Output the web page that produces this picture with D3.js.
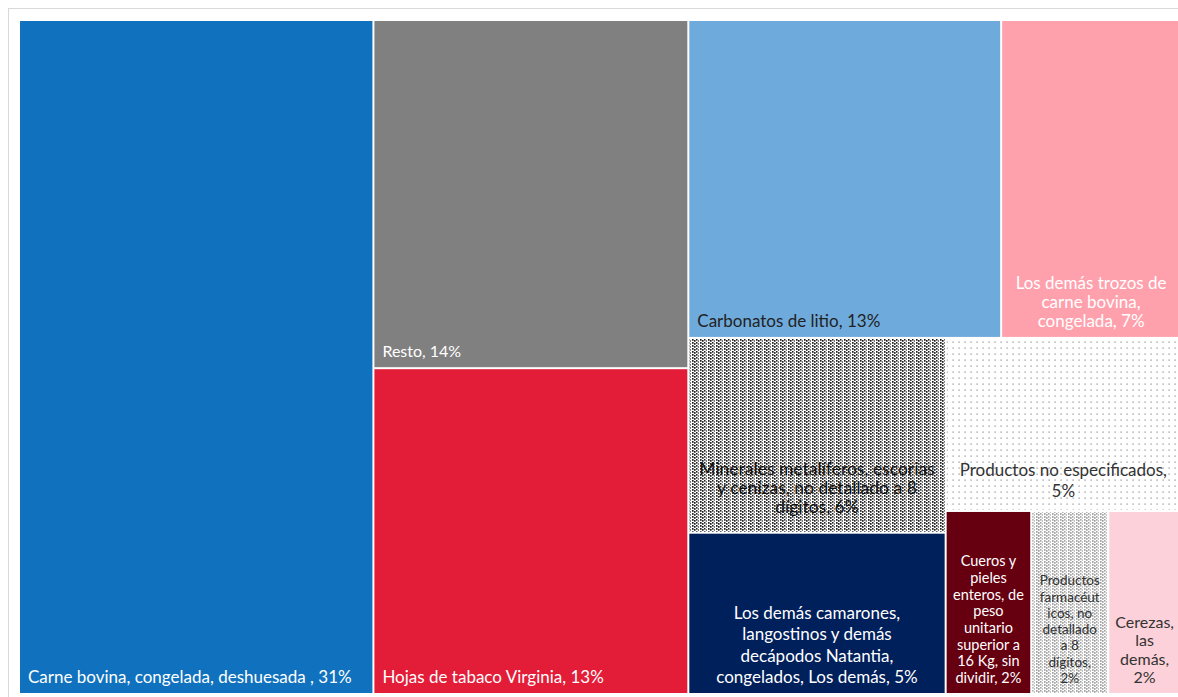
<!DOCTYPE html>
<html>
<head>
<meta charset="utf-8">
<script src="https://cdn.jsdelivr.net/npm/d3@7"></script>
<style>
  body { margin: 0; background: #fff; }
  svg { display: block; }
</style>
</head>
<body>
<div id="treemap"></div>
<script>
// Export shares by product (% of total)
const products = [
  "Carne bovina", "Resto", "Hojas de tabaco", "Carbonatos de litio",
  "Trozos carne bovina", "Minerales metalíferos", "Camarones",
  "Productos no especificados", "Cueros", "Productos farmacéuticos", "Cerezas"
];
const shares = [30.5, 14.0, 13.1, 12.7, 7.3, 6.4, 5.3, 5.2, 2.0, 1.8, 1.7];
// label text as it is broken into lines in the picture
const labels = [
  "Carne bovina, congelada, deshuesada , 31%",
  "Resto, 14%",
  "Hojas de tabaco Virginia, 13%",
  "Carbonatos de litio, 13%",
  "Los demás trozos de\ncarne bovina,\ncongelada, 7%",
  "Minerales metalíferos, escorias\ny cenizas, no detallado a 8\ndígitos, 6%",
  "Los demás camarones,\nlangostinos y demás\ndecápodos Natantia,\ncongelados, Los demás, 5%",
  "Productos no especificados,\n5%",
  "Cueros y\npieles\nenteros, de\npeso\nunitario\nsuperior a\n16 Kg, sin\ndividir, 2%",
  "Productos\nfarmacéut\nicos, no\ndetallado\na 8\ndígitos,\n2%",
  "Cerezas,\nlas\ndemás,\n2%"
];
// the last three products share one strip of the layout
const smallGroup = ["Cueros", "Productos farmacéuticos", "Cerezas"];

const fills = ["#1072be", "#808080", "#e31c37", "#6faadc", "#ffa1ad", "url(#pat-dark)",
  "#00205c", "url(#pat-sparse)", "#660011", "url(#pat-gray)", "#fcd1d9"];
const textColors = ["#fff", "#fff", "#fff", "#222", "#fff", "#111",
  "#fff", "#333", "#fff", "#333", "#333"];

const width = 1178, height = 697;
const margin = {top: 21, left: 20};
const plotW = 1160, plotH = 672;

const svg = d3.select("#treemap").append("svg")
  .attr("width", width)
  .attr("height", height);

// patterns for the hatched cells
const defs = svg.append("defs");
function dotPattern(id, w, h, dots, color) {
  const p = defs.append("pattern")
    .attr("id", id)
    .attr("patternUnits", "userSpaceOnUse")
    .attr("width", w).attr("height", h);
  p.append("rect").attr("width", w).attr("height", h).attr("fill", "#fff");
  dots.forEach(function(d) {
    p.append("rect").attr("x", d[0]).attr("y", d[1])
      .attr("width", d[2]).attr("height", d[3]).attr("fill", color);
  });
}
const denseDots = [[0,0,1.6,1.8],[2,1,1.6,1.8],[4,0,1.5,1.6],[5.8,1.4,1.2,1.2]];
dotPattern("pat-dark", 8, 3, denseDots, "#222");
dotPattern("pat-gray", 8, 3, denseDots, "#a0a0a0");
dotPattern("pat-sparse", 6, 6, [[2.5,2.5,1.2,1.2]], "#888");

// frame round the chart (it runs on past the window)
svg.append("rect")
  .attr("x", 8.5).attr("y", 8.5)
  .attr("width", 1190).attr("height", 710)
  .attr("fill", "none")
  .attr("stroke", "#d9d9d9");

// build the hierarchy
const leaves = products.map(function(name, i) {
  return {name: name, value: shares[i], index: i};
});
const data = {children: []};
const group = {name: "small", children: []};
leaves.forEach(function(d) {
  if (smallGroup.includes(d.name)) group.children.push(d);
  else data.children.push(d);
});
data.children.push(group);

const root = d3.hierarchy(data).sum(function(d) { return d.value || 0; });

const squarify = d3.treemapSquarify.ratio(1);
d3.treemap()
  .size([plotW, plotH])
  .paddingInner(2)
  .tile(function(node, x0, y0, x1, y1) {
    if (node.depth === 0) squarify(node, x0, y0, x1, y1);
    else d3.treemapDice(node, x0, y0, x1, y1);
  })
  (root);

const g = svg.append("g")
  .attr("transform", `translate(${margin.left}, ${margin.top})`);

const cells = g.selectAll("g.cell")
  .data(root.leaves())
  .join("g")
    .attr("class", "cell");

cells.append("rect")
  .attr("x", function(d) { return d.x0; })
  .attr("y", function(d) { return d.y0; })
  .attr("width", function(d) { return d.x1 - d.x0; })
  .attr("height", function(d) { return d.y1 - d.y0; })
  .attr("fill", function(d) { return fills[d.data.index]; });

// smaller type for the narrow cells
function fontSize(i) {
  if (i === 8) return 14.5;
  if (i === 9) return 13.5;
  if (i === 10) return 16;
  if (i === 1) return 16;
  if (i === 5) return 17.5;
  return 17;
}
function lineHeight(i) {
  if (i === 8) return 16.7;
  if (i === 9) return 16.3;
  if (i === 10) return 18.5;
  if (i === 6) return 21.5;
  if (i === 7) return 21;
  return 19;
}
function bottomGap(i) {
  if (i === 5) return 19;
  if (i === 7) return 13;
  return 10;
}

cells.each(function(d) {
  const i = d.data.index;
  const lines = labels[i].split("\n");
  const n = lines.length;
  const lh = lineHeight(i);
  const single = n === 1;
  const bottom = d.y1 - bottomGap(i);
  const text = d3.select(this).append("text")
    .attr("font-family", "Lato, 'Open Sans', sans-serif")
    .attr("font-size", fontSize(i) + "px")
    .attr("fill", textColors[i])
    .attr("text-anchor", single ? "start" : "middle");
  lines.forEach(function(line, k) {
    text.append("tspan")
      .attr("x", single ? d.x0 + 8 : (d.x0 + d.x1) / 2)
      .attr("y", bottom - (n - 1 - k) * lh)
      .text(line);
  });
});
</script>
</body>
</html>
